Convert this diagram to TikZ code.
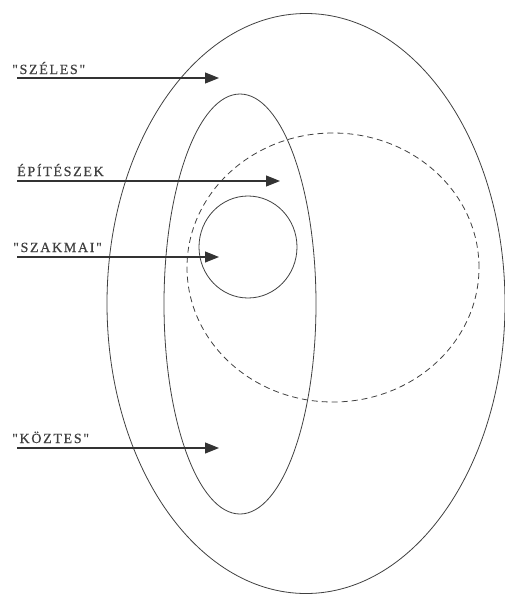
\documentclass[tikz,border=0pt]{standalone}
\usepackage{fontspec}
\setmainfont{Liberation Serif}
\newfontfamily\lblfont[LetterSpace=12,FakeBold=0.6]{Liberation Serif}
\usetikzlibrary{shapes.geometric,arrows.meta}
\begin{document}
\begin{tikzpicture}[x=1pt,y=-1pt,
  ring/.style={ellipse,draw=black!75,line width=0.8pt,inner sep=0pt},
  lbl/.style={anchor=base west,inner sep=0pt,text=black!75,font=\lblfont\fontsize{14}{16}\selectfont},
  pointer/.style={draw=black!80,line width=1.1pt,-{Triangle[length=14pt,width=11pt]}}]
\useasboundingbox (0,0) rectangle (505,595);
\node[ring,minimum width=398pt,minimum height=580pt] (outer) at (306,303.5) {};
\node[ring,minimum width=152pt,minimum height=420pt] (inner) at (240,304) {};
\node[ring,dashed,dash pattern=on 6pt off 4pt,minimum width=292pt,minimum height=269pt] (dash) at (333,267.5) {};
\node[ring,minimum width=98pt,minimum height=102pt] (small) at (248,247) {};
\node[lbl] (l1) at (12,74) {"SZÉLES"};
\node[lbl] (l2) at (17,176) {ÉPÍTÉSZEK};
\node[lbl] (l3) at (13,252) {"SZAKMAI"};
\node[lbl] (l4) at (12,443) {"KÖZTES"};
\coordinate (s1) at (17,78);  \coordinate (e1) at (219,78);
\coordinate (s2) at (17,181); \coordinate (e2) at (280,181);
\coordinate (s3) at (17,257); \coordinate (e3) at (219,257);
\coordinate (s4) at (17,448); \coordinate (e4) at (219,448);
\draw[pointer] (s1) -- (e1);
\draw[pointer] (s2) -- (e2);
\draw[pointer] (s3) -- (e3);
\draw[pointer] (s4) -- (e4);
\end{tikzpicture}
\end{document}
